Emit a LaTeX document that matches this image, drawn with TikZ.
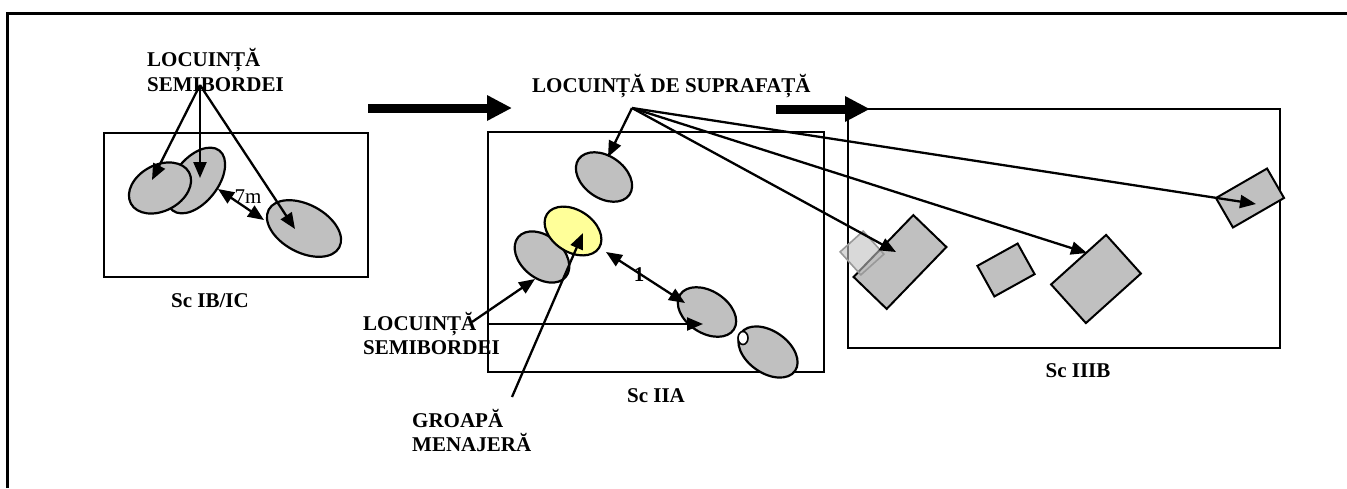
\documentclass[tikz,border=0pt]{standalone}
\usepackage{fontspec}
\setmainfont{Liberation Serif}
\usetikzlibrary{shapes.geometric,arrows.meta}
\definecolor{silver}{HTML}{C0C0C0}
\definecolor{paleyellow}{HTML}{FFFF99}
\begin{document}
\begin{tikzpicture}[x=1pt,y=-1pt,
  lbl/.style={font=\fontsize{21}{24}\selectfont\bfseries, inner sep=0pt, anchor=base west},
  sclabel/.style={font=\fontsize{21}{24}\selectfont\bfseries, inner sep=0pt, anchor=base},
  box/.style={draw, line width=2.2pt},
  ell/.style={ellipse, draw, line width=2.2pt, fill=silver, inner sep=0pt},
  plot/.style={rectangle, draw, line width=2pt, fill=silver, inner sep=0pt},
  arr/.style={line width=2.3pt, -{Triangle[length=16pt,width=13pt]}},
  darr/.style={line width=2.3pt, {Triangle[length=16pt,width=13pt]}-{Triangle[length=16pt,width=13pt]}},
  bigarr/.style={line width=9pt, -{Triangle[length=25pt,width=24pt]}}
]
\useasboundingbox (0,0) rectangle (1347,488);
% outer frame (open on right and bottom)
\draw[line width=3pt] (7,488) -- (7,13) -- (1347,13);

% ---------- Sc IB/IC ----------
\draw[box] (104,133) rectangle (368,277);
\node[ell, minimum width=76pt, minimum height=44pt, rotate=52] (a2) at (196,180.5) {};
\node[ell, minimum width=66pt, minimum height=46pt, rotate=28] (a1) at (160,188) {};
\node[ell, minimum width=80pt, minimum height=48pt, rotate=-28] (a3) at (304,228.5) {};
\node[lbl] (lsa1) at (147,66) {LOCUINȚĂ};
\node[lbl] (lsa2) at (147,91) {SEMIBORDEI};
\node[sclabel] (scI) at (210,307) {Sc IB/IC};
\coordinate (oa) at (200,85);
\coordinate (ta1) at (152,180);
\coordinate (ta2) at (200,178);
\coordinate (ta3) at (295,229);
\draw[arr] (oa) -- (ta1);
\draw[arr] (oa) -- (ta2);
\draw[arr] (oa) -- (ta3);
\coordinate (d7a) at (218,189);
\coordinate (d7b) at (264,220);
\draw[darr] (d7a) -- (d7b);
\node[font=\fontsize{21}{24}\selectfont, inner sep=0pt] (m7) at (248,197) {7m};

% ---------- big arrows ----------
\coordinate (ba1s) at (368,108);
\coordinate (ba1e) at (512,108);
\draw[bigarr] (ba1s) -- (ba1e);
\coordinate (ba2s) at (776,109);
\coordinate (ba2e) at (870,109);
\draw[bigarr] (ba2s) -- (ba2e);

% ---------- Sc IIA ----------
\draw[box] (488,132) rectangle (824,372);
\node[ell, minimum width=62pt, minimum height=42pt, rotate=-35] (b1) at (604,177) {};
\node[ell, minimum width=62pt, minimum height=42pt, rotate=-40] (b2) at (542,257) {};
\node[ell, fill=paleyellow, minimum width=62pt, minimum height=42pt, rotate=-33] (gy) at (573,231) {};
\node[ell, minimum width=64pt, minimum height=42pt, rotate=-33] (b3) at (707,312) {};
\node[ell, minimum width=66pt, minimum height=42pt, rotate=-35] (b4) at (768,352) {};
\node[ellipse, draw, line width=1.6pt, fill=white, inner sep=0pt, minimum width=10pt, minimum height=13pt] (hole) at (743,338) {};
\node[lbl] (sup) at (532,92) {LOCUINȚĂ DE SUPRAFAȚĂ};
\node[lbl] (lsb1) at (363,330) {LOCUINȚĂ};
\node[lbl] (lsb2) at (363,354) {SEMIBORDEI};
\node[lbl] (gm1) at (412,427) {GROAPĂ};
\node[lbl] (gm2) at (412,451) {MENAJERĂ};
\node[sclabel] (scII) at (656,402) {Sc IIA};
\coordinate (d1a) at (606,252);
\coordinate (d1b) at (685,303);
\draw[darr] (d1a) -- (d1b);
\node[font=\fontsize{21}{24}\selectfont\bfseries, inner sep=0pt] (one) at (639,275) {1};
\coordinate (lsbo) at (472,322);
\coordinate (tb2) at (535,279);
\draw[arr] (lsbo) -- (tb2);
\coordinate (hzs) at (488,324);
\coordinate (tb3) at (703,324);
\draw[arr] (hzs) -- (tb3);
\coordinate (gmo) at (512,397);
\coordinate (tgy) at (583,233);
\draw[arr] (gmo) -- (tgy);

% ---------- Sc IIIB ----------
\draw[box] (848,109) rectangle (1280,348);
\node[plot, minimum width=86pt, minimum height=46pt, rotate=46] (c1) at (900,262) {};
\node[rectangle, draw=black!40, line width=1.6pt, fill=silver, fill opacity=0.6, inner sep=0pt, minimum width=31pt, minimum height=31pt, rotate=42] (c0) at (862,253) {};
\node[plot, minimum width=46pt, minimum height=35pt, rotate=29] (c2) at (1006,270) {};
\node[plot, minimum width=74pt, minimum height=52pt, rotate=42] (c3) at (1096,279) {};
\node[plot, minimum width=59pt, minimum height=34pt, rotate=30] (c4) at (1250,198) {};
\node[sclabel] (scIII) at (1078,377) {Sc IIIB};

\coordinate (ob) at (632,108);
\coordinate (tb1) at (608,157);
\coordinate (tc1) at (896,252);
\coordinate (tc3) at (1087,253);
\coordinate (tc4) at (1256,204);
\draw[arr] (ob) -- (tb1);
\draw[arr] (ob) -- (tc1);
\draw[arr] (ob) -- (tc3);
\draw[arr] (ob) -- (tc4);
\end{tikzpicture}
\end{document}
